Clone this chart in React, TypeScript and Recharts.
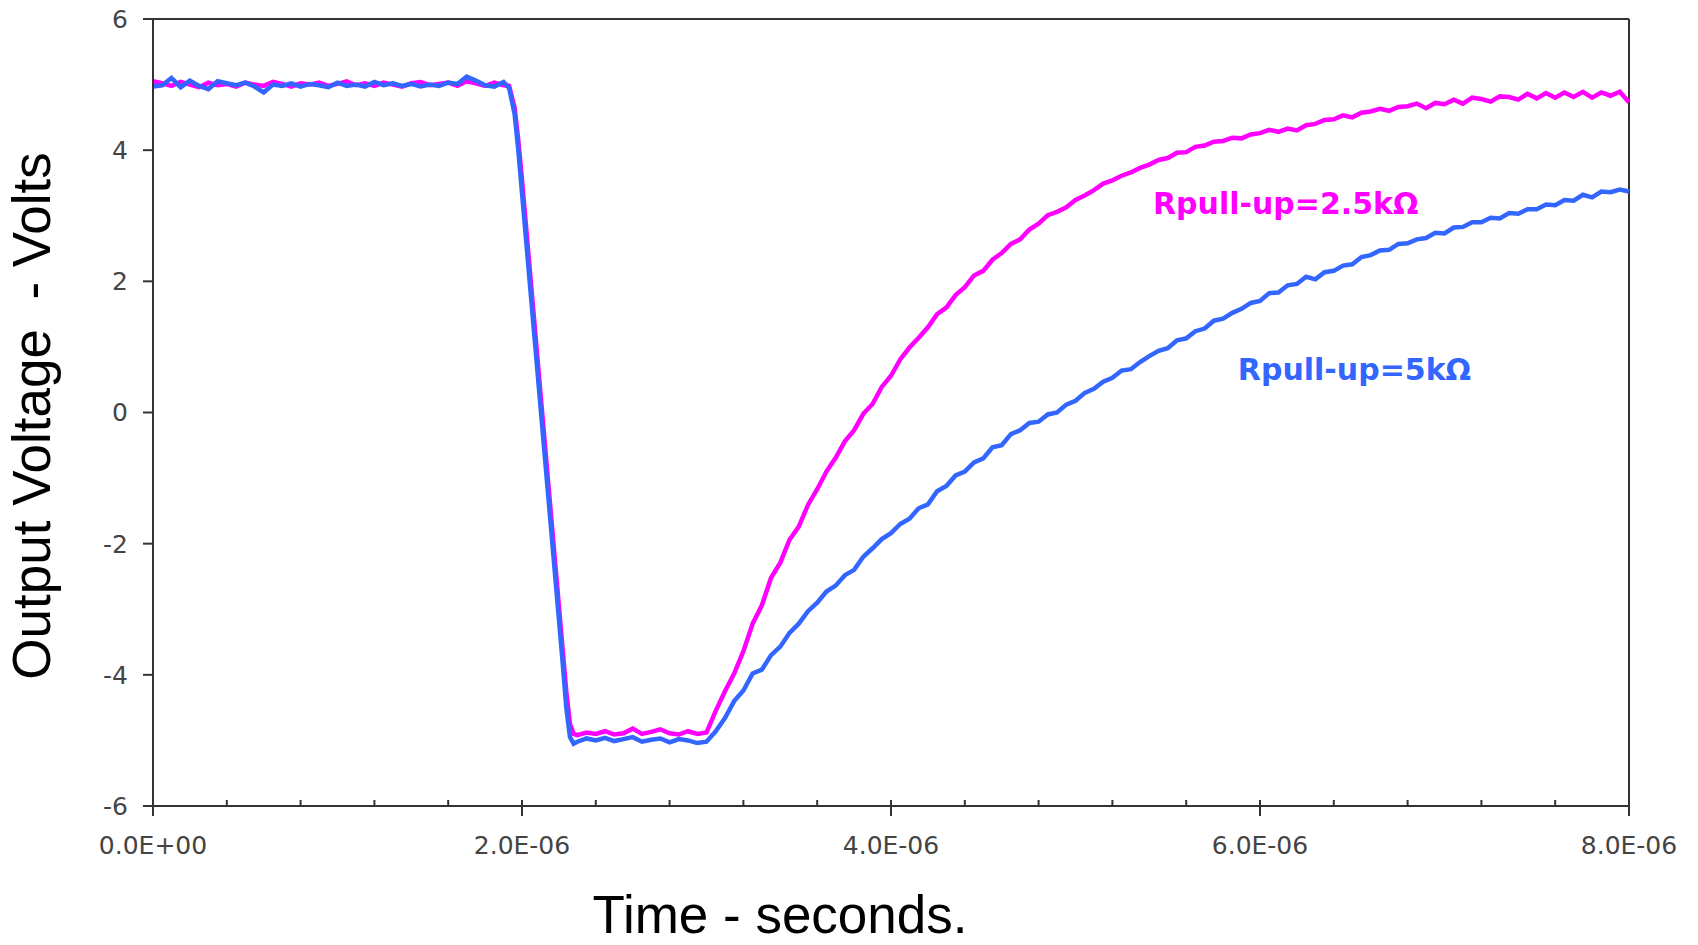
import React from "react";
import { LineChart, Line, XAxis, YAxis, ReferenceLine, ReferenceDot } from "recharts";

// time in microseconds
const timeUs = [
  0, 0.05, 0.1, 0.15, 0.2, 0.25, 0.3, 0.35, 0.4, 0.45, 0.5, 0.55, 0.6, 0.65, 0.7, 0.75, 0.8, 0.85, 0.9, 0.95,
  1.0, 1.05, 1.1, 1.15, 1.2, 1.25, 1.3, 1.35, 1.4, 1.45, 1.5, 1.55, 1.6, 1.65, 1.7, 1.75, 1.8, 1.85, 1.9,
  1.93, 1.96, 1.98, 2.0, 2.02, 2.04, 2.06, 2.08, 2.1, 2.12, 2.14, 2.16, 2.18, 2.2, 2.22, 2.24, 2.26, 2.28,
  2.3, 2.35, 2.4, 2.45, 2.5, 2.55, 2.6, 2.65, 2.7, 2.75, 2.8, 2.85, 2.9, 2.95,
  3.0, 3.05, 3.1, 3.15, 3.2, 3.25, 3.3, 3.35, 3.4, 3.45, 3.5, 3.55, 3.6, 3.65, 3.7, 3.75, 3.8, 3.85, 3.9, 3.95,
  4.0, 4.05, 4.1, 4.15, 4.2, 4.25, 4.3, 4.35, 4.4, 4.45, 4.5, 4.55, 4.6, 4.65, 4.7, 4.75, 4.8, 4.85, 4.9, 4.95,
  5.0, 5.05, 5.1, 5.15, 5.2, 5.25, 5.3, 5.35, 5.4, 5.45, 5.5, 5.55, 5.6, 5.65, 5.7, 5.75, 5.8, 5.85, 5.9, 5.95,
  6.0, 6.05, 6.1, 6.15, 6.2, 6.25, 6.3, 6.35, 6.4, 6.45, 6.5, 6.55, 6.6, 6.65, 6.7, 6.75, 6.8, 6.85, 6.9, 6.95,
  7.0, 7.05, 7.1, 7.15, 7.2, 7.25, 7.3, 7.35, 7.4, 7.45, 7.5, 7.55, 7.6, 7.65, 7.7, 7.75, 7.8, 7.85, 7.9, 7.95,
  8.0,
];

// Rpull-up = 2.5 kOhm (magenta)
const vPull2k5 = [
  5.05, 5.02, 4.98, 5.04, 5.0, 4.96, 5.03, 4.99, 5.01, 4.97, 5.03, 5.0, 4.98, 5.04, 5.01, 4.97, 5.02, 5.0, 5.03, 4.98,
  5.01, 5.05, 4.99, 5.02, 4.98, 5.03, 5.0, 4.97, 5.02, 5.04, 4.99, 5.01, 5.03, 4.98, 5.05, 5.02, 4.98, 5.03, 4.99,
  4.98, 4.65, 4.15, 3.55, 2.9, 2.25, 1.6, 0.95, 0.3, -0.35, -1.0, -1.65, -2.3, -2.95, -3.6, -4.25, -4.75, -4.9,
  -4.92, -4.88, -4.9, -4.86, -4.91, -4.89, -4.82, -4.9, -4.87, -4.83, -4.89, -4.91, -4.86, -4.9,
  -4.88, -4.55, -4.25, -3.98, -3.64, -3.22, -2.94, -2.52, -2.29, -1.94, -1.74, -1.41, -1.17, -0.9, -0.69, -0.44, -0.27, -0.02, 0.13, 0.39,
  0.56, 0.81, 0.99, 1.14, 1.3, 1.5, 1.6, 1.79, 1.91, 2.09, 2.16, 2.33, 2.43, 2.57, 2.64, 2.79, 2.88, 3.01, 3.06, 3.13,
  3.24, 3.31, 3.39, 3.49, 3.54, 3.61, 3.66, 3.73, 3.78, 3.85, 3.88, 3.96, 3.97, 4.05, 4.07, 4.13, 4.14, 4.19, 4.18, 4.24,
  4.26, 4.31, 4.28, 4.33, 4.3, 4.38, 4.4, 4.46, 4.47, 4.53, 4.5, 4.57, 4.59, 4.63, 4.6, 4.66, 4.67, 4.71, 4.64, 4.72,
  4.7, 4.77, 4.71, 4.8, 4.78, 4.74, 4.82, 4.81, 4.77, 4.86, 4.79, 4.87, 4.8, 4.88, 4.81, 4.89, 4.8, 4.88, 4.83, 4.89,
  4.73,
];

// Rpull-up = 5 kOhm (blue)
const vPull5k = [
  4.97, 4.99, 5.1, 4.96, 5.06, 4.98, 4.93, 5.05, 5.02, 4.99, 5.03, 4.97, 4.88, 5.0, 4.98, 5.02, 4.97, 5.01, 4.99, 4.96,
  5.03, 4.98, 5.0, 4.97, 5.04, 4.99, 5.02, 4.98, 5.01, 4.97, 5.0, 4.98, 5.03, 5.01, 5.12, 5.06, 4.99, 4.97, 5.04,
  4.95, 4.55, 4.0, 3.35, 2.7, 2.05, 1.4, 0.75, 0.1, -0.55, -1.2, -1.85, -2.5, -3.15, -3.8, -4.5, -4.95, -5.05,
  -5.02, -4.97, -5.0, -4.96, -5.01, -4.98, -4.95, -5.02, -4.99, -4.97, -5.03, -4.98, -5.0, -5.04,
  -5.02, -4.86, -4.66, -4.4, -4.24, -3.98, -3.92, -3.7, -3.57, -3.36, -3.22, -3.03, -2.9, -2.73, -2.64, -2.48, -2.4, -2.2, -2.07, -1.93,
  -1.84, -1.7, -1.62, -1.46, -1.4, -1.2, -1.12, -0.96, -0.9, -0.76, -0.7, -0.53, -0.5, -0.33, -0.27, -0.16, -0.14, -0.03, 0.0, 0.12,
  0.18, 0.3, 0.36, 0.47, 0.53, 0.64, 0.66, 0.77, 0.86, 0.94, 0.98, 1.1, 1.13, 1.24, 1.28, 1.4, 1.43, 1.52, 1.58, 1.67,
  1.7, 1.82, 1.83, 1.94, 1.96, 2.07, 2.03, 2.14, 2.16, 2.24, 2.26, 2.37, 2.4, 2.47, 2.48, 2.57, 2.58, 2.64, 2.66, 2.74,
  2.73, 2.82, 2.83, 2.9, 2.9, 2.97, 2.96, 3.04, 3.03, 3.1, 3.1, 3.17, 3.16, 3.24, 3.23, 3.32, 3.28, 3.37, 3.36, 3.4,
  3.37,
];

const xTicks = [0, 0.4, 0.8, 1.2, 1.6, 2, 2.4, 2.8, 3.2, 3.6, 4, 4.4, 4.8, 5.2, 5.6, 6, 6.4, 6.8, 7.2, 7.6, 8];
const xMajorLabels = ["0.0E+00", "2.0E-06", "4.0E-06", "6.0E-06", "8.0E-06"];
const yTicks = [-6, -4, -2, 0, 2, 4, 6];

const seriesNames = ["Rpull-up=2.5kΩ", "Rpull-up=5kΩ"];
const seriesColors = ["#ff00ff", "#3366ff"];
// label anchor points in data units (time µs, volts)
const labelAnchors = [
  { t: 5.42, v: 3.02 },
  { t: 5.88, v: 0.5 },
];

const data = timeUs.map((t, i) => ({ t, a: vPull2k5[i], b: vPull5k[i] }));

const AXIS = "#333";
const TICK_FONT = 25;

const XTick = (props: any) => {
  const { x, y, payload } = props;
  const v = payload.value as number;
  const idx = Math.round(v / 2);
  const major = Math.abs(v / 2 - idx) < 1e-6;
  return (
    <g>
      <line x1={x} x2={x} y1={y - 6} y2={major ? y + 10 : y} stroke={AXIS} strokeWidth={2} />
      {major && (
        <text x={x} y={y + 48} textAnchor="middle" fill="#444" fontSize={TICK_FONT} fontFamily="DejaVu Sans">
          {xMajorLabels[idx]}
        </text>
      )}
    </g>
  );
};

const makeLabel = (text: string, color: string) => (props: any) => {
  const vb = props.viewBox || {};
  const x = (vb.x ?? 0) + (vb.width ?? 0) / 2;
  const y = (vb.y ?? 0) + (vb.height ?? 0) / 2;
  return (
    <text x={x} y={y} fill={color} fontSize={30} fontWeight="bold" fontFamily="DejaVu Sans" textAnchor="start">
      {text}
    </text>
  );
};

export default function App() {
  return (
    <div style={{ position: "absolute", left: 0, top: 0, width: 1698, height: 945, background: "#fff" }}>
      <LineChart width={1698} height={945} data={data} margin={{ top: 19, right: 69, bottom: 0, left: 0 }}>
        <XAxis
          dataKey="t"
          type="number"
          domain={[0, 8]}
          ticks={xTicks}
          interval={0}
          height={139}
          tickSize={0}
          tickMargin={0}
          tickLine={false}
          axisLine={{ stroke: AXIS, strokeWidth: 2 }}
          tick={<XTick />}
          label={{
            content: () => (
              <text x={780} y={933} textAnchor="middle" fill="#000" fontSize={53} fontFamily="Liberation Sans">
                Time - seconds.
              </text>
            ),
          }}
        />
        <YAxis
          type="number"
          domain={[-6, 6]}
          ticks={yTicks}
          interval={0}
          width={153}
          tickSize={10}
          tickMargin={15}
          tickLine={{ stroke: AXIS, strokeWidth: 2 }}
          axisLine={{ stroke: AXIS, strokeWidth: 2 }}
          tick={{ fill: "#444", fontSize: TICK_FONT, fontFamily: "DejaVu Sans" }}
          label={{
            content: () => (
              <text
                x={31}
                y={416}
                transform="rotate(-90 31 416)"
                textAnchor="middle"
                dominantBaseline="central"
                fill="#000"
                fontSize={53}
                fontFamily="Liberation Sans"
                style={{ whiteSpace: "pre" }}
              >
                {"Output Voltage  - Volts"}
              </text>
            ),
          }}
        />
        <ReferenceLine y={6} stroke={AXIS} strokeWidth={2} />
        <ReferenceLine x={8} stroke={AXIS} strokeWidth={2} />
        <Line
          type="linear"
          dataKey="a"
          stroke={seriesColors[0]}
          strokeWidth={4.5}
          dot={false}
          isAnimationActive={false}
        />
        <Line
          type="linear"
          dataKey="b"
          stroke={seriesColors[1]}
          strokeWidth={4.5}
          dot={false}
          isAnimationActive={false}
        />
        {labelAnchors.map((p, i) => (
          <ReferenceDot
            key={i}
            x={p.t}
            y={p.v}
            r={0}
            fill="none"
            stroke="none"
            label={makeLabel(seriesNames[i], seriesColors[i])}
          />
        ))}
      </LineChart>
    </div>
  );
}
